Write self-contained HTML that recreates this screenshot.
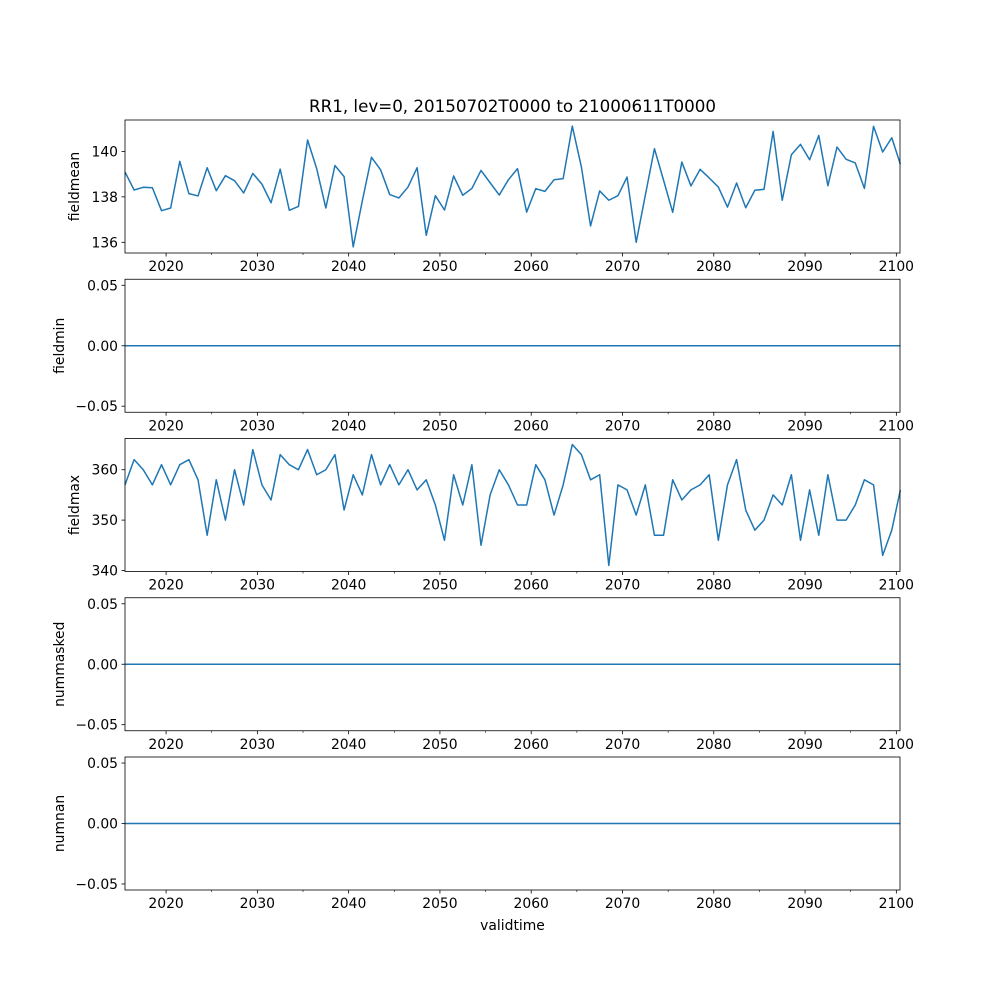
<!DOCTYPE html>
<html><head><meta charset="utf-8"><style>
html,body{margin:0;padding:0;background:#fff}
svg text{font-family:"DejaVu Sans","Liberation Sans",sans-serif;font-size:13.9px;fill:#000}
</style></head><body>
<svg id="chart" width="1000" height="1000" xmlns="http://www.w3.org/2000/svg">
<text x="512.5" y="112" text-anchor="middle" style="font-size:16.7px">RR1, lev=0, 20150702T0000 to 21000611T0000</text>
<text x="512.5" y="930" text-anchor="middle">validtime</text>
</svg>
<script>
const fieldmean = [139.09,138.30,138.42,138.40,137.39,137.51,139.56,138.14,138.04,139.28,138.27,138.93,138.71,138.17,139.03,138.56,137.74,139.22,137.41,137.58,140.50,139.24,137.51,139.38,138.89,135.80,137.83,139.74,139.19,138.10,137.95,138.43,139.28,136.31,138.05,137.42,138.92,138.07,138.37,139.16,138.62,138.08,138.75,139.24,137.33,138.36,138.24,138.75,138.80,141.11,139.31,136.72,138.26,137.85,138.05,138.87,136.00,138.07,140.12,138.73,137.32,139.53,138.48,139.21,138.83,138.43,137.55,138.61,137.52,138.29,138.33,140.88,137.85,139.85,140.31,139.63,140.70,138.49,140.19,139.65,139.49,138.37,141.10,139.97,140.60,139.43];
const fieldmax = [357,362,360,357,361,357,361,362,358,347,358,350,360,353,364,357,354,363,361,360,364,359,360,363,352,359,355,363,357,361,357,360,356,358,353,346,359,353,361,345,355,360,357,353,353,361,358,351,357,365,363,358,359,341,357,356,351,357,347,347,358,354,356,357,359,346,357,362,352,348,350,355,353,359,346,356,347,359,350,350,353,358,357,343,348,356];
const zeroSeries = new Array(86).fill(0);
const years = fieldmean.map((_, i) => i < 85 ? 2015.5 + i : 2100.44);
const majorTicks = [2020,2030,2040,2050,2060,2070,2080,2090,2100];
const minorTicks = [2025,2035,2045,2055,2065,2075,2085,2095];
const meanTicks = [136,138,140];
const maxTicks = [340,350,360];
const zeroTicks = [-0.05,0.00,0.05];

const NS="http://www.w3.org/2000/svg";
const svg=document.getElementById('chart');
const L=125,R=900,H=133;
const xMin=2015.5,xMax=2100.4;
const xs=v=>L+(v-xMin)/(xMax-xMin)*(R-L);
function mk(tag,attrs,parent){const e=document.createElementNS(NS,tag);for(const k in attrs)e.setAttribute(k,attrs[k]);(parent||svg).appendChild(e);return e;}

const panels=[
 {name:'fieldmean',top:120,data:fieldmean,lo:135.53,hi:141.38,ticks:meanTicks,fmt:v=>String(v)},
 {name:'fieldmin',top:279.25,data:zeroSeries,lo:-0.055,hi:0.055,ticks:zeroTicks,fmt:v=>v<0?'\u2212'+Math.abs(v).toFixed(2):v.toFixed(2)},
 {name:'fieldmax',top:438.5,data:fieldmax,lo:339.8,hi:366.2,ticks:maxTicks,fmt:v=>String(v)},
 {name:'nummasked',top:597.75,data:zeroSeries,lo:-0.055,hi:0.055,ticks:zeroTicks,fmt:v=>v<0?'\u2212'+Math.abs(v).toFixed(2):v.toFixed(2)},
 {name:'numnan',top:757,data:zeroSeries,lo:-0.055,hi:0.055,ticks:zeroTicks,fmt:v=>v<0?'\u2212'+Math.abs(v).toFixed(2):v.toFixed(2)}
];
panels.forEach(p=>{
 const g=mk('g',{});
 
 
 const B=p.top+H;
 const ys=v=>B-(v-p.lo)/(p.hi-p.lo)*H;
 const pts=p.data.map((v,i)=>xs(years[i]).toFixed(2)+','+ys(v).toFixed(2)).join(' ');
 const line=mk('polyline',{points:pts,fill:'none',stroke:'#1f77b4','stroke-width':1.5,'stroke-linejoin':'round'},g);
 
 
 const frame=mk('rect',{x:L,y:p.top,width:R-L,height:H,fill:'none',stroke:'#000','stroke-width':0.8},g);
 
 
 p.ticks.forEach(t=>{
  const y=ys(t);
  mk('line',{x1:L-3.5,x2:L,y1:y,y2:y,stroke:'#000','stroke-width':0.8},g);
  const tx=mk('text',{x:L-7,y:y+5,'text-anchor':'end'},g);
  tx.textContent=p.fmt(t);
  
  
 });
 majorTicks.forEach(t=>{
  const x=xs(t);
  mk('line',{x1:x,x2:x,y1:B,y2:B+3.5,stroke:'#000','stroke-width':0.8},g);
  const tx=mk('text',{x:x,y:B+18,'text-anchor':'middle'},g);
  tx.textContent=String(t);
  
  
 });
 minorTicks.forEach(t=>{
  const x=xs(t);
  mk('line',{x1:x,x2:x,y1:B,y2:B+2,stroke:'#000','stroke-width':0.6},g);
 });
 const cy=p.top+H/2;
 const lab=mk('text',{x:0,y:0,'text-anchor':'middle',transform:'translate('+(p.name==='fieldmean'||p.name==='fieldmax'?79:64)+','+cy+') rotate(-90)'},g);
 lab.textContent=p.name;
 
 
});
</script>
</body></html>
